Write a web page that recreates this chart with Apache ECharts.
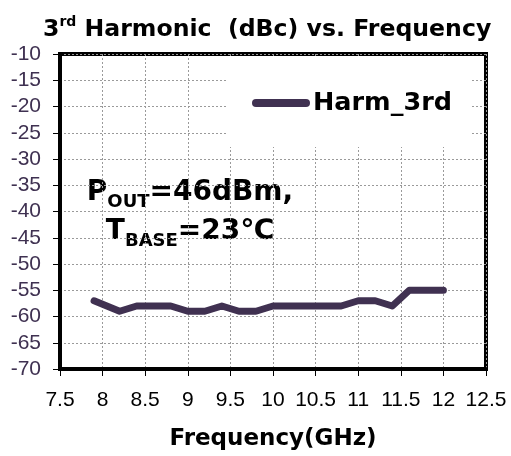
<!DOCTYPE html>
<html>
<head>
<meta charset="utf-8">
<script src="https://cdn.jsdelivr.net/npm/echarts@6/dist/echarts.min.js"></script>
<style>
  html, body { margin: 0; padding: 0; background: #fff; }
  #chart { width: 511px; height: 456px; }
</style>
</head>
<body>
<div id="chart"></div>
<script>
// Third-harmonic level of the amplifier across the band
var frequencyGHz = [7.9, 8.2, 8.4, 8.6, 8.8, 9.0, 9.2, 9.4, 9.6, 9.8, 10.0, 10.2, 10.4, 10.6, 10.8, 11.0, 11.2, 11.4, 11.6, 11.8, 12.0];
var harm3rdDbc   = [-57, -59, -58, -58, -58, -59, -59, -58, -59, -59, -58, -58, -58, -58, -58, -57, -57, -58, -55, -55, -55];
var seriesName = 'Harm_3rd';
var xAxisName = 'Frequency(GHz)';

var lineColor = '#403151';
var boldFont = 'DejaVu Sans';
var tickFont = 'Liberation Sans';

var chart = echarts.init(document.getElementById('chart'), null, { renderer: 'canvas' });

var points = frequencyGHz.map(function (f, i) { return [f, harm3rdDbc[i]]; });

var noteRich = {
  b: { fontFamily: boldFont, fontWeight: 'bold', fontSize: 28, fill: '#000', lineHeight: 36 },
  s: { fontFamily: boldFont, fontWeight: 'bold', fontSize: 18, fill: '#000', lineHeight: 18, verticalAlign: 'bottom' }
};

chart.setOption({
  animation: false,
  backgroundColor: '#fff',
  title: {
    text: '{n|3}{s|rd}{n| Harmonic  (dBc) vs. Frequency}',
    left: 43,
    top: 15,
    padding: 0,
    textStyle: {
      rich: {
        n: { fontFamily: boldFont, fontWeight: 'bold', fontSize: 23.6, color: '#000', lineHeight: 30 },
        s: { fontFamily: boldFont, fontWeight: 'bold', fontSize: 14, color: '#000', lineHeight: 18, verticalAlign: 'top' }
      }
    }
  },
  legend: {
    data: [seriesName],
    left: 228,
    top: 58,
    padding: [32, 18, 31, 24],
    backgroundColor: '#fff',
    itemWidth: 58,
    itemHeight: 8,
    icon: 'path://M4,0 L54,0 A4,4 0 0 1 54,8 L4,8 A4,4 0 0 1 4,0 Z',
    textStyle: { fontFamily: boldFont, fontWeight: 'bold', fontSize: 25.5, color: '#000', padding: [0, 0, 0, -2] },
    z: 10
  },
  grid: {
    left: 60,
    right: 25,
    top: 54,
    bottom: 79,
    show: true,
    borderColor: '#000',
    borderWidth: 4,
    containLabel: false
  },
  xAxis: {
    type: 'value',
    min: 7.5,
    max: 12.5,
    interval: 0.5,
    name: xAxisName,
    nameLocation: 'middle',
    nameGap: 59,
    nameTextStyle: { fontFamily: boldFont, fontWeight: 'bold', fontSize: 23, color: '#000' },
    axisLine: { show: true, onZero: false, lineStyle: { color: '#000', width: 4 } },
    axisTick: { show: true, inside: false, length: 7, lineStyle: { color: '#000', width: 1 } },
    axisLabel: { fontFamily: tickFont, fontSize: 21, color: '#000', margin: 21, showMinLabel: true, showMaxLabel: true },
    splitLine: { show: true, lineStyle: { color: '#9a9a9a', width: 1, type: [2, 2] } }
  },
  yAxis: {
    type: 'value',
    min: -70,
    max: -10,
    interval: 5,
    axisLine: { show: true, onZero: false, lineStyle: { color: '#000', width: 4 } },
    axisTick: { show: true, inside: false, length: 7, lineStyle: { color: '#000', width: 1 } },
    axisLabel: { fontFamily: tickFont, fontSize: 21, color: '#3f3151', margin: 19 },
    splitLine: { show: true, lineStyle: { color: '#9a9a9a', width: 1, type: [2, 2] } }
  },
  graphic: [{
    type: 'group',
    z: 10,
    children: [
      { type: 'rect', shape: { x: 73, y: 162, width: 234, height: 96 }, style: { fill: '#fff' } },
      {
        type: 'text', x: 190, y: 193,
        style: { text: '{b|P}{s|OUT}{b|=46dBm,}', align: 'center', verticalAlign: 'middle', rich: noteRich }
      },
      {
        type: 'text', x: 190, y: 232,
        style: { text: '{b|T}{s|BASE}{b|=23\u2103}', align: 'center', verticalAlign: 'middle', rich: noteRich }
      }
    ]
  }],
  series: [{
    name: seriesName,
    type: 'line',
    data: points,
    showSymbol: false,
    symbol: 'none',
    color: lineColor,
    lineStyle: { color: lineColor, width: 7, cap: 'round', join: 'round' },
    z: 5
  }]
});
</script>
</body>
</html>
